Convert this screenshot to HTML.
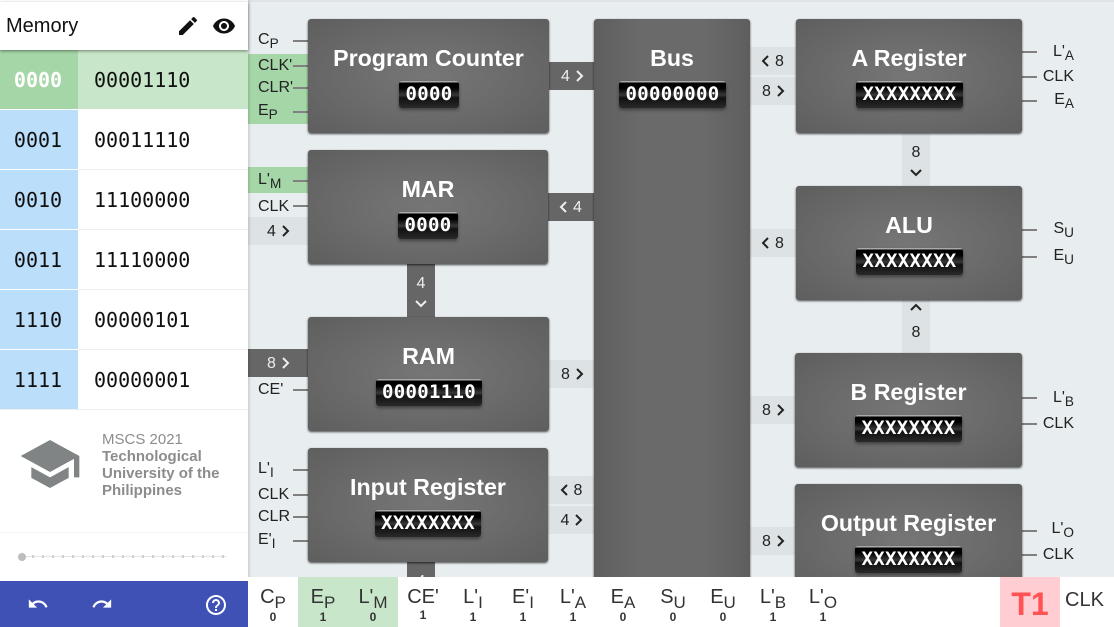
<!DOCTYPE html>
<html><head><meta charset="utf-8"><style>
*{box-sizing:border-box}
html,body{margin:0;padding:0;width:1114px;height:627px;overflow:hidden;background:#e8eef0;font-family:"Liberation Sans",sans-serif}
#root{position:absolute;left:0;top:0;width:1114px;height:627px;overflow:hidden}
.a{position:absolute}
#side{left:0;top:0;width:248px;height:627px;background:#fff;box-shadow:1px 0 3px rgba(0,0,0,.18)}
.r{position:absolute;left:0;width:248px;height:59px;font:20px/61px "DejaVu Sans Mono",monospace;color:#111}
.r b{position:absolute;left:0;top:0;width:78px;height:59px;padding-right:2px;background:#bbdefb;font-weight:normal;text-align:center}
.r i{position:absolute;left:94px;top:0;font-style:normal}
.box{position:absolute;border-radius:3px;background:radial-gradient(ellipse at center,#767676 0%,#6c6c6c 45%,#5e5e5e 100%);box-shadow:0 1px 2px rgba(0,0,0,.7);color:#fff;text-align:center;font-weight:bold;font-size:23.2px}
.box span.t{position:absolute;left:0;right:0;top:25px;line-height:28px}
.d{position:absolute;height:27px;top:62px;border-radius:3px;background:linear-gradient(#aaa 0,#aaa 1px,#000 2px,#000 7px,#383838 14px,#111 17px,#2a2a2a 100%);box-shadow:0 2px 3px rgba(0,0,0,.4);font:bold 19px/27px "DejaVu Sans Mono",monospace;letter-spacing:.3px;color:#fff;text-align:center}
.c{position:absolute;height:28px;background:#dde2e5;color:#222;font-size:16px;line-height:30px;text-align:center;white-space:nowrap}
.c.v{width:28px;height:53px;line-height:20px;padding-top:10px}
.k{background:#666;color:#eee}
.c svg{vertical-align:-1px;margin:0 -2px 0 5px}
.c svg.L{margin:0 5px 0 -2px}
.c.v svg{display:block;margin:6px auto 0}
.l{position:absolute;font-size:16px;line-height:18px;color:#222;white-space:nowrap;margin-top:1px}
.l sub,.s sub{font-size:.85em;line-height:0;vertical-align:-.3em}
.w{position:absolute;width:15px;height:2px;background:#808080}
.g{position:absolute;left:248px;width:60px;background:#a5d6a7}
#bar{left:248px;top:577px;width:866px;height:50px;background:#fff}
.s{position:absolute;top:8px;width:50px;text-align:center;font-size:20px;line-height:24px;color:#333;white-space:nowrap}
.s u{position:absolute;left:0;width:50px;top:25px;text-decoration:none;font-size:12px;font-weight:bold;line-height:14px;color:#333}
</style></head><body>
<div id="root">
<div class="a" style="left:0;top:0;width:1114px;height:2px;background:#dfe3e5"></div>

<div class="g" style="top:54px;height:70px"></div>
<div class="g" style="top:167px;height:26px"></div>

<!-- connectors -->
<div class="c k" style="left:549px;top:62px;width:46px">4<svg width="10" height="12" viewBox="0 0 10 12"><path d="M2 1l5 5-5 5" fill="none" stroke="#eee" stroke-width="2"/></svg></div>
<div class="c k" style="left:547px;top:193px;width:48px"><svg class="L" width="10" height="12" viewBox="0 0 10 12"><path d="M8 1L3 6l5 5" fill="none" stroke="#eee" stroke-width="2"/></svg>4</div>
<div class="c" style="left:549px;top:360px;width:46px">8<svg width="10" height="12" viewBox="0 0 10 12"><path d="M2 1l5 5-5 5" fill="none" stroke="#222" stroke-width="2"/></svg></div>
<div class="c" style="left:248px;top:217px;width:60px">4<svg width="10" height="12" viewBox="0 0 10 12"><path d="M2 1l5 5-5 5" fill="none" stroke="#222" stroke-width="2"/></svg></div>
<div class="c k" style="left:248px;top:349px;width:60px">8<svg width="10" height="12" viewBox="0 0 10 12"><path d="M2 1l5 5-5 5" fill="none" stroke="#eee" stroke-width="2"/></svg></div>
<div class="c" style="left:548px;top:476px;width:47px"><svg class="L" width="10" height="12" viewBox="0 0 10 12"><path d="M8 1L3 6l5 5" fill="none" stroke="#222" stroke-width="2"/></svg>8</div>
<div class="c" style="left:548px;top:506px;width:47px">4<svg width="10" height="12" viewBox="0 0 10 12"><path d="M2 1l5 5-5 5" fill="none" stroke="#222" stroke-width="2"/></svg></div>
<div class="c" style="left:750px;top:47px;width:46px"><svg class="L" width="10" height="12" viewBox="0 0 10 12"><path d="M8 1L3 6l5 5" fill="none" stroke="#222" stroke-width="2"/></svg>8</div>
<div class="c" style="left:750px;top:77px;width:46px">8<svg width="10" height="12" viewBox="0 0 10 12"><path d="M2 1l5 5-5 5" fill="none" stroke="#222" stroke-width="2"/></svg></div>
<div class="c" style="left:750px;top:229px;width:46px"><svg class="L" width="10" height="12" viewBox="0 0 10 12"><path d="M8 1L3 6l5 5" fill="none" stroke="#222" stroke-width="2"/></svg>8</div>
<div class="c" style="left:750px;top:396px;width:46px">8<svg width="10" height="12" viewBox="0 0 10 12"><path d="M2 1l5 5-5 5" fill="none" stroke="#222" stroke-width="2"/></svg></div>
<div class="c" style="left:750px;top:527px;width:46px">8<svg width="10" height="12" viewBox="0 0 10 12"><path d="M2 1l5 5-5 5" fill="none" stroke="#222" stroke-width="2"/></svg></div>
<div class="c v" style="left:902px;top:133px">8<svg width="12" height="8" viewBox="0 0 12 8"><path d="M1 1l5 5 5-5" fill="none" stroke="#222" stroke-width="2"/></svg></div>
<div class="c v" style="left:902px;top:300px;padding-top:3px"><svg width="12" height="8" viewBox="0 0 12 8" style="margin:0 auto 12px"><path d="M1 7l5-5 5 5" fill="none" stroke="#222" stroke-width="2"/></svg>8</div>
<div class="c v k" style="left:407px;top:264px">4<svg width="12" height="8" viewBox="0 0 12 8"><path d="M1 1l5 5 5-5" fill="none" stroke="#eee" stroke-width="2"/></svg></div>
<div class="c v k" style="left:407px;top:562px">4</div>

<!-- wires -->
<div class="w" style="left:293px;top:40px"></div>
<div class="w" style="left:293px;top:65px"></div>
<div class="w" style="left:293px;top:87px"></div>
<div class="w" style="left:293px;top:111px"></div>
<div class="w" style="left:293px;top:180px"></div>
<div class="w" style="left:293px;top:205px"></div>
<div class="w" style="left:293px;top:389px"></div>
<div class="w" style="left:293px;top:469px"></div>
<div class="w" style="left:293px;top:494px"></div>
<div class="w" style="left:293px;top:516px"></div>
<div class="w" style="left:293px;top:540px"></div>
<div class="w" style="left:1022px;top:51px"></div>
<div class="w" style="left:1022px;top:76px"></div>
<div class="w" style="left:1022px;top:100px"></div>
<div class="w" style="left:1022px;top:229px"></div>
<div class="w" style="left:1022px;top:256px"></div>
<div class="w" style="left:1022px;top:397px"></div>
<div class="w" style="left:1022px;top:423px"></div>
<div class="w" style="left:1022px;top:530px"></div>
<div class="w" style="left:1022px;top:554px"></div>

<!-- labels left -->
<div class="l" style="left:258px;top:30px">C<sub>P</sub></div>
<div class="l" style="left:258px;top:56px">CLK'</div>
<div class="l" style="left:258px;top:78px">CLR'</div>
<div class="l" style="left:258px;top:101px">E<sub>P</sub></div>
<div class="l" style="left:258px;top:170px">L'<sub>M</sub></div>
<div class="l" style="left:258px;top:197px">CLK</div>
<div class="l" style="left:258px;top:380px">CE'</div>
<div class="l" style="left:258px;top:459px">L'<sub>I</sub></div>
<div class="l" style="left:258px;top:485px">CLK</div>
<div class="l" style="left:258px;top:507px">CLR</div>
<div class="l" style="left:258px;top:530px">E'<sub>I</sub></div>
<!-- labels right -->
<div class="l" style="right:40px;top:42px">L'<sub>A</sub></div>
<div class="l" style="right:40px;top:67px">CLK</div>
<div class="l" style="right:40px;top:90px">E<sub>A</sub></div>
<div class="l" style="right:40px;top:219px">S<sub>U</sub></div>
<div class="l" style="right:40px;top:246px">E<sub>U</sub></div>
<div class="l" style="right:40px;top:388px">L'<sub>B</sub></div>
<div class="l" style="right:40px;top:414px">CLK</div>
<div class="l" style="right:40px;top:519px">L'<sub>O</sub></div>
<div class="l" style="right:40px;top:545px">CLK</div>

<!-- boxes -->
<div class="box" style="left:308px;top:19px;width:241px;height:114px"><span class="t">Program Counter</span><div class="d" style="left:91px;width:60px">0000</div></div>
<div class="box" style="left:308px;top:150px;width:240px;height:114px"><span class="t">MAR</span><div class="d" style="left:90px;width:60px">0000</div></div>
<div class="box" style="left:308px;top:317px;width:241px;height:114px"><span class="t">RAM</span><div class="d" style="left:68px;width:106px">00001110</div></div>
<div class="box" style="left:308px;top:448px;width:240px;height:114px"><span class="t">Input Register</span><div class="d" style="left:67px;width:106px">XXXXXXXX</div></div>
<div class="box" style="left:594px;top:19px;width:156px;height:570px;background:linear-gradient(90deg,#5e5e5e 0%,#6a6a6a 30%,#6a6a6a 70%,#5e5e5e 100%)"><span class="t">Bus</span><div class="d" style="left:25px;width:107px">00000000</div></div>
<div class="box" style="left:796px;top:19px;width:226px;height:114px"><span class="t">A Register</span><div class="d" style="left:60px;width:107px">XXXXXXXX</div></div>
<div class="box" style="left:796px;top:186px;width:226px;height:114px"><span class="t">ALU</span><div class="d" style="left:60px;width:107px">XXXXXXXX</div></div>
<div class="box" style="left:795px;top:353px;width:227px;height:114px"><span class="t">B Register</span><div class="d" style="left:60px;width:107px">XXXXXXXX</div></div>
<div class="box" style="left:795px;top:484px;width:227px;height:114px"><span class="t">Output Register</span><div class="d" style="left:60px;width:107px">XXXXXXXX</div></div>

<!-- sidebar -->
<div class="a" id="side">
<div class="a" style="left:0;top:2px;width:248px;height:48px;background:#fff;box-shadow:0 1px 3px rgba(0,0,0,.45);z-index:3">
<div class="a" style="left:6px;top:12px;font-size:20px;line-height:24px;color:#111">Memory</div>
<svg class="a" style="left:176px;top:12px" width="24" height="24" viewBox="0 0 24 24"><path fill="#111" d="M3 17.25V21h3.75L17.81 9.94l-3.75-3.75L3 17.25zM20.71 7.04c.39-.39.39-1.02 0-1.41l-2.34-2.34c-.39-.39-1.02-.39-1.41 0l-1.83 1.83 3.75 3.75 1.83-1.83z"/></svg>
<svg class="a" style="left:212px;top:12px" width="24" height="24" viewBox="0 0 24 24"><path fill="#111" d="M12 4.5C7 4.5 2.73 7.61 1 12c1.73 4.39 6 7.5 11 7.5s9.27-3.11 11-7.5c-1.73-4.39-6-7.5-11-7.5zM12 17c-2.76 0-5-2.24-5-5s2.24-5 5-5 5 2.24 5 5-2.24 5-5 5zm0-8c-1.66 0-3 1.34-3 3s1.34 3 3 3 3-1.34 3-3-1.34-3-3-3z"/></svg>
</div>
<div class="r" style="top:50px;background:#c8e6c9"><b style="background:#a5d6a7;color:#fff;font-weight:bold">0000</b><i>00001110</i></div>
<div class="r" style="top:110px"><b>0001</b><i>00011110</i></div>
<div class="r" style="top:170px"><b>0010</b><i>11100000</i></div>
<div class="r" style="top:230px"><b>0011</b><i>11110000</i></div>
<div class="r" style="top:290px"><b>1110</b><i>00000101</i></div>
<div class="r" style="top:350px"><b>1111</b><i>00000001</i></div>
<div class="a" style="left:78px;top:169px;width:170px;height:1px;background:#eee"></div>
<div class="a" style="left:78px;top:229px;width:170px;height:1px;background:#eee"></div>
<div class="a" style="left:78px;top:289px;width:170px;height:1px;background:#eee"></div>
<div class="a" style="left:78px;top:349px;width:170px;height:1px;background:#eee"></div>
<div class="a" style="left:0;top:409px;width:248px;height:1px;background:#eee"></div>
<svg class="a" style="left:18px;top:432px" width="64" height="64" viewBox="0 0 24 24"><path fill="#808484" d="M5 13.18v4L12 21l7-3.82v-4L12 17l-7-3.82zM12 3L1 9l11 6 9-4.91V17h2V9L12 3z"/></svg>
<div class="a" style="left:102px;top:431px;font-size:15px;line-height:17px;color:#8c8c8c;white-space:nowrap">MSCS 2021<br><b>Technological<br>University of the<br>Philippines</b></div>
<div class="a" style="left:0;top:532px;width:248px;height:1px;background:#f4f4f4"></div>
<div class="a" style="left:22px;top:556px;width:204px;height:1px;background:#e2e2e2"></div>
<div class="a" style="left:22px;top:555px;width:204px;height:3px;background:repeating-linear-gradient(90deg,#d0d0d0 0,#d0d0d0 2px,transparent 2px,transparent 10px)"></div>
<div class="a" style="left:18px;top:553px;width:8px;height:8px;border-radius:50%;background:#bdbdbd"></div>
<div class="a" style="left:0;top:581px;width:248px;height:46px;background:#3f51b5">
<svg class="a" style="left:27px;top:12px" width="22" height="22" viewBox="0 0 24 24"><path fill="#fff" d="M12.5 8c-2.65 0-5.05.99-6.9 2.6L2 7v9h9l-3.62-3.62c1.39-1.16 3.16-1.88 5.12-1.88 3.54 0 6.55 2.31 7.6 5.5l2.37-.78C21.08 11.03 17.15 8 12.5 8z"/></svg>
<svg class="a" style="left:91px;top:12px" width="22" height="22" viewBox="0 0 24 24"><path fill="#fff" d="M18.4 10.6C16.55 8.99 14.15 8 11.5 8c-4.65 0-8.58 3.03-9.96 7.22L3.9 16c1.05-3.19 4.05-5.5 7.6-5.5 1.95 0 3.73.72 5.12 1.88L13 16h9V7l-3.6 3.6z"/></svg>
<svg class="a" style="left:204px;top:12px" width="24" height="24" viewBox="0 0 24 24"><path fill="#fff" d="M11 18h2v-2h-2v2zm1-16C6.48 2 2 6.48 2 12s4.48 10 10 10 10-4.48 10-10S17.52 2 12 2zm0 18c-4.41 0-8-3.59-8-8s3.59-8 8-8 8 3.59 8 8-3.59 8-8 8zm0-14c-2.21 0-4 1.79-4 4h2c0-1.1.9-2 2-2s2 .9 2 2c0 2-3 1.75-3 5h2c0-2.25 3-2.5 3-5 0-2.21-1.79-4-4-4z"/></svg>
</div>
</div>

<!-- bottom bar -->
<div class="a" id="bar">
<div class="a" style="left:50px;top:0;width:100px;height:50px;background:#c8e6c9"></div>
<div class="s" style="left:0">C<sub>P</sub><u>0</u></div>
<div class="s" style="left:50px">E<sub>P</sub><u>1</u></div>
<div class="s" style="left:100px">L'<sub>M</sub><u>0</u></div>
<div class="s" style="left:150px">CE'<u style="top:23px">1</u></div>
<div class="s" style="left:200px">L'<sub>I</sub><u>1</u></div>
<div class="s" style="left:250px">E'<sub>I</sub><u>1</u></div>
<div class="s" style="left:300px">L'<sub>A</sub><u>1</u></div>
<div class="s" style="left:350px">E<sub>A</sub><u>0</u></div>
<div class="s" style="left:400px">S<sub>U</sub><u>0</u></div>
<div class="s" style="left:450px">E<sub>U</sub><u>0</u></div>
<div class="s" style="left:500px">L'<sub>B</sub><u>1</u></div>
<div class="s" style="left:550px">L'<sub>O</sub><u>1</u></div>
<div class="a" style="left:752px;top:0;width:60px;height:50px;background:#ffcdd2;color:#ff5252;font-weight:bold;font-size:32px;line-height:54px;text-align:center">T1</div>
<div class="a" style="left:817px;top:11px;font-size:20px;line-height:24px;color:#333">CLK</div>
</div>
</div>
</body></html>
